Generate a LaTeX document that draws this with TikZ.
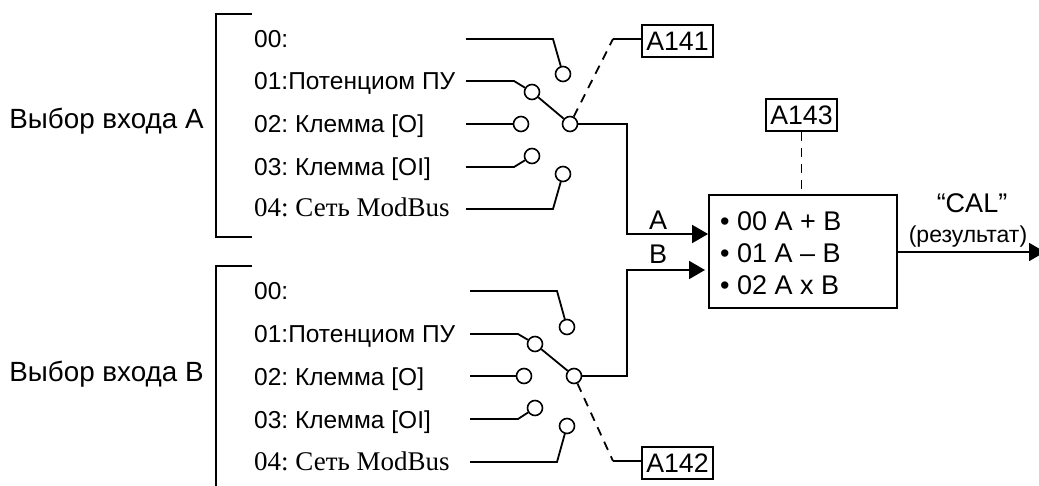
\documentclass[tikz,border=0pt]{standalone}
\usepackage{fontspec}
\setmainfont{Liberation Sans}
\newfontfamily\serifrm{Liberation Serif}
\usetikzlibrary{arrows.meta,calc}
\frenchspacing
\tikzset{
  wire/.style={line width=1.8pt},
  ctrl/.style={line width=1.8pt,dash pattern=on 9pt off 7pt},
  pin/.style={circle,draw,line width=1.6pt,fill=white,minimum size=15pt,inner sep=0pt},
  param/.style={draw,line width=1.8pt,minimum width=71pt,minimum height=32pt,inner sep=0pt,font=\fontsize{26.7}{27}\selectfont},
  lbl/.style={anchor=base west,inner sep=0pt,font=\fontsize{24.5}{25}\selectfont},
  srflbl/.style={anchor=base west,inner sep=0pt,font=\fontsize{27}{27}\selectfont\serifrm},
  side/.style={inner sep=0pt,font=\fontsize{27.8}{28}\selectfont},
  big/.style={inner sep=0pt,font=\fontsize{27}{27}\selectfont},
  feed/.style={wire,-{Triangle[length=16pt,width=18pt]}}
}
\begin{document}
\begin{tikzpicture}[x=1pt,y=-1pt]
\useasboundingbox (0,0) rectangle (1039,486);
% brackets
\draw[wire] (252,14)--(216,14)--(216,237)--(252,237);
\draw[wire] (252,266)--(216,266)--(216,486);
\node[side] (selA) at (106.5,121) {Выбор входа А};
\node[side] (selB) at (106.5,374) {Выбор входа В};
% input A
\node[lbl] (a0) at (254,48) {00:};
\node[lbl] (a1) at (254,90) {01:Потенциом ПУ};
\node[lbl] (a2) at (254,133) {02: Клемма [O]};
\node[lbl] (a3) at (254,176) {03: Клемма [OI]};
\node[srflbl] (a4) at (254,217) {04: Сеть ModBus};
\node[pin] (pa0) at (563,74) {};
\node[pin] (pa1) at (532,92) {};
\node[pin] (pa2) at (521,124) {};
\node[pin] (pa3) at (532,156) {};
\node[pin] (pa4) at (563,174) {};
\node[pin] (outA) at (570,124) {};
\draw[wire] (466,39)--(553,39)--(pa0);
\draw[wire] (466,81)--(514,81)--(pa1);
\draw[wire] (466,124)--(pa2);
\draw[wire] (466,167)--(514,167)--(pa3);
\draw[wire] (466,209)--(553,209)--(pa4);
\draw[wire] (pa1)--(outA);
% input B
\node[lbl] (b0) at (254,300) {00:};
\node[lbl] (b1) at (254,343) {01:Потенциом ПУ};
\node[lbl] (b2) at (254,385) {02: Клемма [O]};
\node[lbl] (b3) at (254,428) {03: Клемма [OI]};
\node[srflbl] (b4) at (254,470) {04: Сеть ModBus};
\node[pin] (pb0) at (567,327) {};
\node[pin] (pb1) at (535,344) {};
\node[pin] (pb2) at (524,376) {};
\node[pin] (pb3) at (535,408) {};
\node[pin] (pb4) at (567,426) {};
\node[pin] (outB) at (574,376) {};
\draw[wire] (470,291)--(557,291)--(pb0);
\draw[wire] (470,334)--(518,334)--(pb1);
\draw[wire] (470,376)--(pb2);
\draw[wire] (470,419)--(518,419)--(pb3);
\draw[wire] (470,462)--(557,462)--(pb4);
\draw[wire] (pb1)--(outB);
% block
\node[draw,line width=1.8pt,minimum width=188pt,minimum height=113pt,inner sep=0pt] (calc) at (803,251.5) {};
\node[big,anchor=base west] (op0) at (720,231) {• 00 A + B};
\node[big,anchor=base west] (op1) at (720,263) {• 01 A – B};
\node[big,anchor=base west] (op2) at (720,295) {• 02 A x B};
\node[big] (lblA) at (658,220) {A};
\node[big] (lblB) at (658,254) {B};
\draw[feed] (outA)--(627,124)--(627,234)--(calc.west|-0,234);
\draw[feed] (outB)--(627,376)--(627,270)--(705,270);
% result
\coordinate (res) at (1045,252);
\draw[feed] (calc.east|-res)--(res);
\node[big] (cal) at (972,203) {“CAL”};
\node[inner sep=0pt,font=\fontsize{23}{23}\selectfont] (resu) at (968,237) {(результат)};
% parameters
\node[param] (p141) at (677.5,41) {A141};
\node[param] (p142) at (677.5,463) {A142};
\node[param] (p143) at (801.5,115) {A143};
\coordinate (kneeA) at (613,39);
\coordinate (kneeB) at (613,461);
\draw[ctrl] (outA)--(kneeA);
\draw[wire] (kneeA)--(p141.west|-kneeA);
\draw[ctrl] (outB)--(kneeB);
\draw[wire] (kneeB)--(p142.west|-kneeB);
\draw[ctrl] (p143.south)--(p143.south|-calc.north);
\end{tikzpicture}
\end{document}
